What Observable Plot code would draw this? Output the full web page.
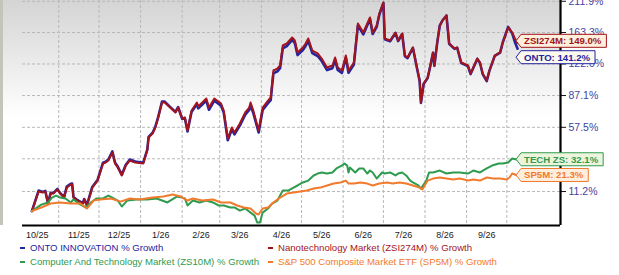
<!DOCTYPE html>
<html><head><meta charset="utf-8">
<script src="https://cdn.jsdelivr.net/npm/d3@7"></script>
<script src="https://cdn.jsdelivr.net/npm/@observablehq/plot@0.6"></script>
<style>
html,body{margin:0;padding:0;background:#fff;}
#wrap{position:relative;width:619px;height:275px;overflow:hidden;font-family:"Liberation Sans",Arial,sans-serif;}
#bg{position:absolute;left:0;top:0;width:560px;height:225px;background:linear-gradient(to bottom,#d4d4d4 0px,#ffffff 118px);}
#strip{position:absolute;left:0;top:0;width:3px;height:225px;background:#c4c4b9;}
#chart{position:absolute;left:0;top:0;}
#chart svg{background:transparent !important;overflow:visible;}
#chart [aria-label^="y-axis"] text{fill:#3f3fa0;font-size:10.5px;}
#chart [aria-label^="x-axis"] text{fill:#1a1a1a;font-size:9px;}
.lg{position:absolute;font-size:9.6px;white-space:nowrap;line-height:12px;}
.lg i{display:inline-block;width:5px;height:2px;vertical-align:middle;margin-right:5px;}
</style></head>
<body>
<div id="wrap"><div id="bg"></div><div id="strip"></div><div id="chart"></div></div>
<script>
// ---- data ----
const nanoDates = ["2025-10-12","2025-10-17","2025-10-20","2025-10-22","2025-10-24","2025-10-26","2025-10-28","2025-10-31","2025-11-02","2025-11-05","2025-11-07","2025-11-10","2025-11-11","2025-11-12","2025-11-15","2025-11-19","2025-11-20","2025-11-22","2025-11-26","2025-11-30","2025-12-04","2025-12-06","2025-12-08","2025-12-11","2025-12-13","2025-12-15","2025-12-18","2025-12-21","2025-12-24","2025-12-28","2026-01-03","2026-01-06","2026-01-07","2026-01-10","2026-01-12","2026-01-14","2026-01-17","2026-01-19","2026-01-23","2026-01-27","2026-01-29","2026-02-01","2026-02-03","2026-02-05","2026-02-08","2026-02-12","2026-02-13","2026-02-16","2026-02-19","2026-02-21","2026-02-25","2026-03-02","2026-03-04","2026-03-07","2026-03-10","2026-03-12","2026-03-16","2026-03-20","2026-03-23","2026-03-24","2026-03-26","2026-03-30","2026-04-02","2026-04-06","2026-04-08","2026-04-10","2026-04-13","2026-04-15","2026-04-17","2026-04-20","2026-04-24","2026-04-26","2026-04-28","2026-05-02","2026-05-04","2026-05-06","2026-05-09","2026-05-13","2026-05-16","2026-05-20","2026-05-24","2026-05-26","2026-05-28","2026-05-31","2026-06-03","2026-06-05","2026-06-09","2026-06-12","2026-06-16","2026-06-19","2026-06-21","2026-06-23","2026-06-26","2026-06-28","2026-07-01","2026-07-02","2026-07-06","2026-07-10","2026-07-12","2026-07-15","2026-07-17","2026-07-19","2026-07-23","2026-07-26","2026-07-28","2026-07-29","2026-07-31","2026-08-03","2026-08-05","2026-08-07","2026-08-08","2026-08-10","2026-08-12","2026-08-14","2026-08-17","2026-08-19","2026-08-23","2026-08-25","2026-08-28","2026-09-02","2026-09-04","2026-09-06","2026-09-09","2026-09-11","2026-09-13","2026-09-16","2026-09-18","2026-09-22","2026-09-26","2026-09-28","2026-10-02","2026-10-05","2026-10-07","2026-10-09"];
const nanoValues = [0,11.2,10.6,11.2,4.2,10.0,10.0,12.4,10.0,7.6,13.6,15.5,15.5,7.6,5.9,4.2,6.5,3.1,13.6,18.0,29.4,30.1,31.6,37.4,29.4,26.7,21.3,28.0,31.6,30.1,29.4,38.9,49.0,52.3,57.3,65.2,80.2,80.2,75.3,70.7,75.3,65.2,66.1,54.8,72.5,80.2,76.3,80.2,84.1,75.3,84.1,79.2,72.5,48.2,57.3,53.1,60.8,70.7,75.3,80.2,72.5,54.8,75.3,82.1,85.1,114.3,116.6,120.2,145.4,148.1,156.3,152.1,136.3,142.8,148.1,154.9,138.8,135.0,128.7,117.8,120.2,129.9,117.8,114.3,132.4,114.3,123.8,176.5,163.3,176.5,185.6,163.3,173.5,191.9,209.8,154.9,152.1,163.3,152.1,161.9,132.4,129.9,142.8,117.8,103.0,80.2,99.7,106.3,120.2,136.3,120.2,148.1,173.5,181.0,188.7,148.1,141.5,142.8,123.8,120.2,110.8,117.8,128.7,123.8,110.8,103.0,114.3,132.4,136.3,149.4,170.6,163.3,154.9,149.0];
const ontoValues = [0,11.8,11.0,11.6,4.5,10.4,10.3,12.8,10.4,7.9,14.2,16.0,16.1,8.0,6.1,4.4,6.8,3.3,14.0,18.6,30.0,30.8,32.2,38.2,30.0,27.3,21.8,28.6,32.3,30.8,30.0,39.5,49.5,53.0,58.0,66.0,81.2,81.0,76.0,71.2,75.8,65.0,65.6,54.0,71.2,78.6,74.6,78.2,82.0,73.2,82.0,77.0,70.6,46.8,55.6,51.6,59.0,68.6,73.0,77.8,70.2,53.2,73.0,79.6,82.6,111.0,113.4,117.0,141.6,144.6,153.0,148.6,133.0,139.4,144.8,151.6,135.6,131.8,125.6,114.8,117.0,126.8,114.8,111.4,129.6,111.6,121.2,173.6,160.6,174.0,183.2,161.2,171.4,190.4,209.0,153.8,151.2,162.6,151.4,161.2,131.6,129.2,142.2,117.2,102.6,79.8,99.2,105.8,119.8,136.0,119.8,147.6,173.4,181.0,188.8,147.8,141.0,142.4,123.2,119.6,110.2,117.2,128.2,123.2,110.2,102.4,113.8,132.0,136.2,149.8,171.4,162.0,150.2,141.2];
const techDates = ["2025-10-12","2025-10-19","2025-10-24","2025-10-27","2025-10-30","2025-11-02","2025-11-06","2025-11-10","2025-11-12","2025-11-16","2025-11-21","2025-11-25","2025-11-29","2025-12-04","2025-12-08","2025-12-11","2025-12-15","2025-12-18","2025-12-22","2025-12-29","2026-01-06","2026-01-13","2026-01-21","2026-01-28","2026-02-01","2026-02-03","2026-02-05","2026-02-09","2026-02-14","2026-02-19","2026-02-24","2026-02-28","2026-03-04","2026-03-09","2026-03-12","2026-03-16","2026-03-20","2026-03-24","2026-03-27","2026-03-29","2026-03-31","2026-04-02","2026-04-06","2026-04-09","2026-04-13","2026-04-15","2026-04-17","2026-04-21","2026-04-25","2026-04-28","2026-05-02","2026-05-06","2026-05-10","2026-05-13","2026-05-16","2026-05-20","2026-05-24","2026-05-27","2026-05-31","2026-06-02","2026-06-04","2026-06-05","2026-06-06","2026-06-10","2026-06-13","2026-06-16","2026-06-19","2026-06-21","2026-06-23","2026-06-26","2026-06-30","2026-07-02","2026-07-06","2026-07-10","2026-07-12","2026-07-15","2026-07-18","2026-07-21","2026-07-23","2026-07-27","2026-07-29","2026-08-02","2026-08-04","2026-08-07","2026-08-12","2026-08-17","2026-08-22","2026-08-27","2026-09-02","2026-09-06","2026-09-11","2026-09-16","2026-09-20","2026-09-25","2026-09-28","2026-10-02","2026-10-05","2026-10-09"];
const techValues = [0,3.6,4.8,7.6,8.8,7.6,7.1,4.8,6.5,4.2,2.0,4.8,7.1,7.1,8.8,7.6,5.9,2.5,5.9,6.5,6.5,7.1,4.8,8.2,7.6,7.1,3.1,5.9,4.8,5.9,4.8,3.1,3.1,2.0,2.0,0.3,1.4,-0.8,-2.4,-6.0,-6.0,-0.8,1.4,4.2,5.9,8.8,11.8,11.8,13.6,14.9,16.8,18.0,21.3,22.6,23.3,22.6,23.3,26.0,28.0,29.4,28.0,23.3,26.7,23.3,26.0,26.0,22.6,24.6,23.3,19.3,23.3,22.6,23.3,21.3,22.6,23.3,21.3,18.0,16.8,14.9,13.0,18.0,23.3,23.3,24.6,22.6,23.3,23.3,22.6,24.6,23.3,26.0,28.0,29.4,29.4,30.1,33.0,32.1];
const spDates = ["2025-10-12","2025-10-19","2025-10-26","2025-11-02","2025-11-10","2025-11-17","2025-11-22","2025-11-27","2025-12-02","2025-12-10","2025-12-17","2025-12-24","2025-12-31","2026-01-10","2026-01-18","2026-01-25","2026-01-31","2026-02-05","2026-02-09","2026-02-16","2026-02-24","2026-03-02","2026-03-09","2026-03-14","2026-03-19","2026-03-24","2026-03-28","2026-03-30","2026-04-02","2026-04-06","2026-04-10","2026-04-15","2026-04-20","2026-04-25","2026-04-30","2026-05-05","2026-05-10","2026-05-15","2026-05-20","2026-05-25","2026-05-30","2026-06-03","2026-06-05","2026-06-09","2026-06-14","2026-06-19","2026-06-23","2026-06-28","2026-07-04","2026-07-08","2026-07-13","2026-07-18","2026-07-23","2026-07-28","2026-07-30","2026-08-03","2026-08-07","2026-08-12","2026-08-17","2026-08-22","2026-08-27","2026-09-02","2026-09-06","2026-09-11","2026-09-16","2026-09-21","2026-09-26","2026-10-01","2026-10-03","2026-10-05","2026-10-09"];
const spValues = [0,2.0,4.2,4.8,4.2,4.2,1.4,5.9,6.5,7.1,5.3,7.1,6.5,7.6,8.2,9.4,8.2,5.9,7.1,5.9,6.5,4.8,4.8,3.1,2.0,1.4,-1.3,-1.8,1.4,2.0,4.8,7.6,10.0,10.6,11.2,11.8,13.0,13.6,14.9,16.1,16.8,18.0,16.1,16.1,16.8,16.1,14.9,16.1,16.8,16.1,16.8,16.1,14.9,13.6,12.4,18.0,19.3,20.0,19.3,18.7,19.3,18.0,18.7,18.0,20.0,19.3,19.3,18.7,20.0,22.6,21.3];

const seriesNames = ["ONTO INNOVATION % Growth","Nanotechnology Market (ZSI274M) % Growth","Computer And Technology Market (ZS10M) % Growth","S&P 500 Composite Market ETF (SP5M) % Growth"];
const shortNames = ["ONTO","ZSI274M","TECH ZS","SP5M"];
const seriesColors = ["#2424a0","#a3141c","#2e9b4e","#f27a2c"];
const calloutFills = ["#fbf8ee","#fcf0dc","#eef4dc","#fdeedd"];

const monthLabels = ["10/25","11/25","12/25","1/26","2/26","3/26","4/26","5/26","6/26","7/26","8/26","9/26"];
const labelDates = ["2025-10-16","2025-11-16","2025-12-16","2026-01-16","2026-02-15","2026-03-16","2026-04-16","2026-05-16","2026-06-16","2026-07-16","2026-08-16","2026-09-16"];
const gridMonths = ["2025-11-01","2025-12-01","2026-01-01","2026-02-01","2026-03-01","2026-04-01","2026-05-01","2026-06-01","2026-07-01","2026-08-01","2026-09-01","2026-10-01"];
const yTickLabels = [11.2, 32.8, 57.5, 87.1, 122.0, 163.3, 211.9];
const xDomain = ["2025-10-05","2026-11-10"];
const yDomainPct = [-7.5, 213.2];

// ---- build ----
const toF = p => 1 + p / 100;
const mk = (dates, vals) => dates.map((d, i) => ({date: new Date(d), f: toF(vals[i]), v: vals[i]}));
const onto = mk(nanoDates, ontoValues);
const nano = mk(nanoDates, nanoValues);
const tech = mk(techDates, techValues);
const sp = mk(spDates, spValues);
const series = [onto, nano, tech, sp];

const xMax = new Date(xDomain[1]);
const yMin = toF(yDomainPct[0]);
const labelDateObjs = labelDates.map(d => new Date(d));

const chart = Plot.plot({
  width: 619, height: 242,
  marginLeft: 22, marginRight: 59, marginTop: 0, marginBottom: 17,
  style: {background: "transparent", fontFamily: "Liberation Sans, Arial, sans-serif", fontSize: "9px", color: "#111"},
  x: {type: "utc", domain: xDomain.map(d => new Date(d)), label: null, axis: "bottom",
      ticks: labelDateObjs, tickSize: 0, tickPadding: 6,
      tickFormat: d => { const i = labelDateObjs.findIndex(t => +t === +d); return i >= 0 ? monthLabels[i] : ""; }},
  y: {type: "log", domain: yDomainPct.map(toF), label: null, axis: "right",
      ticks: yTickLabels.map(toF), tickSize: 5, tickPadding: 3,
      tickFormat: d => ((d - 1) * 100).toFixed(1) + "%"},
  marks: [
    Plot.ruleX(gridMonths.map(d => new Date(d)), {stroke: "#b8b8b8", strokeWidth: 1, strokeDasharray: "3,2"}),
    Plot.ruleY(yTickLabels.map(toF), {stroke: "#b8b8b8", strokeWidth: 1, strokeDasharray: "3,2"}),
    Plot.line(onto, {x: "date", y: "f", stroke: seriesColors[0], strokeWidth: 2.6, strokeLinejoin: "round"}),
    Plot.line(nano, {x: "date", y: "f", stroke: seriesColors[1], strokeWidth: 2, strokeLinejoin: "round"}),
    Plot.line(tech, {x: "date", y: "f", stroke: seriesColors[2], strokeWidth: 2, strokeLinejoin: "round"}),
    Plot.line(sp, {x: "date", y: "f", stroke: seriesColors[3], strokeWidth: 2, strokeLinejoin: "round"}),
    Plot.ruleY([yMin], {stroke: "#000", strokeWidth: 2.2}),
    Plot.ruleX([xMax], {stroke: "#000", strokeWidth: 2.2})
  ]
});
document.getElementById("chart").appendChild(chart);

// ---- callouts at series ends, positioned via Plot's own scales ----
const xs = chart.scale("x"), ys = chart.scale("y");
const X = xs.apply ? (d => xs.apply(d)) : d3.scaleUtc(xs.domain, xs.range);
const Y = ys.apply ? (d => ys.apply(d)) : d3.scaleLog(ys.domain, ys.range);
const svg = d3.select(chart.tagName.toLowerCase() === "svg" ? chart : chart.querySelector("svg"));
const g = svg.append("g").attr("text-anchor", "start");
const nudges = [9, -1.5, 0, 0]; // label collision offsets (px)
[1, 0, 2, 3].forEach(k => {
  const s = series[k], last = s[s.length - 1];
  const tx = X(last.date) - 1, cy = Y(last.f) + nudges[k];
  const path = g.append("path").attr("fill", calloutFills[k]).attr("stroke", seriesColors[k]).attr("stroke-width", 1);
  const t = g.append("text").attr("x", tx + 8).attr("y", cy).attr("dy", "0.36em")
    .attr("text-anchor", "start")
    .attr("font-size", 9.6).attr("font-weight", "bold").attr("fill", seriesColors[k])
    .attr("font-family", "Liberation Sans, Arial, sans-serif")
    .text(`${shortNames[k]}: ${last.v.toFixed(1)}%`);
  const w = t.node().getComputedTextLength();
  const r = tx + 8 + w + 5, h = 6.5;
  path.attr("d", `M${tx},${cy} L${tx + 5},${cy - h} L${r},${cy - h} L${r},${cy + h} L${tx + 5},${cy + h} Z`);
});

// ---- legend ----
const wrap = document.getElementById("wrap");
const pos = [[20, 242], [268, 242], [20, 256], [268, 256]];
seriesNames.forEach((n, i) => {
  const el = document.createElement("div");
  el.className = "lg";
  el.style.left = pos[i][0] + "px";
  el.style.top = pos[i][1] + "px";
  el.style.color = seriesColors[i];
  const dash = document.createElement("i");
  dash.style.background = seriesColors[i];
  el.appendChild(dash);
  el.appendChild(document.createTextNode(n));
  wrap.appendChild(el);
});
</script>
</body></html>
